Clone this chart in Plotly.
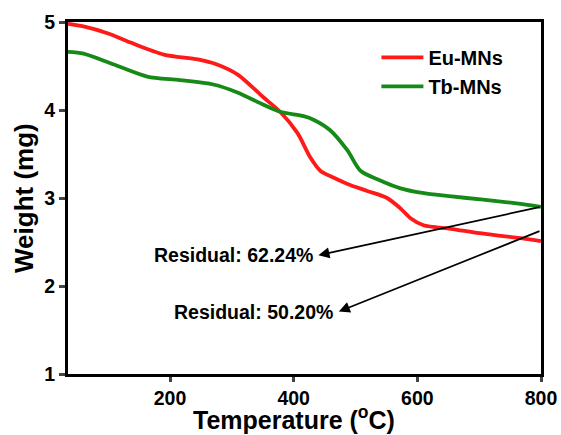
import plotly.graph_objects as go

eu_t = [35, 60, 100, 135, 190, 245, 275, 310, 350, 378, 406, 427, 443, 465, 487, 519, 551, 573, 589, 610, 654, 700, 735, 770, 800]
eu_w = [4.98, 4.95, 4.87, 4.77, 4.63, 4.575, 4.52, 4.40, 4.15, 3.98, 3.74, 3.46, 3.31, 3.23, 3.16, 3.08, 3.0, 2.88, 2.77, 2.69, 2.65, 2.60, 2.57, 2.54, 2.51]

tb_t = [35, 60, 108, 163, 216, 270, 309, 351, 378, 416, 432, 459, 487, 508, 540, 573, 605, 626, 680, 735, 770, 800]
tb_w = [4.66, 4.64, 4.52, 4.38, 4.34, 4.29, 4.20, 4.06, 3.98, 3.93, 3.89, 3.77, 3.54, 3.31, 3.20, 3.11, 3.06, 3.04, 3.0, 2.96, 2.93, 2.90]

x_ticks = [200, 400, 600, 800]
y_ticks = [1, 2, 3, 4, 5]

x_title = "Temperature (<sup>o</sup>C)"
y_title = "Weight (mg)"

res_labels = ["Residual: 62.24%", "Residual: 50.20%"]
res_text_pos = [(303, 2.35), (335, 1.70)]
res_arrow_head = [(440, 2.35), (473, 1.71)]
res_arrow_tail = [(800, 2.90), (800, 2.63)]

FONT = "Liberation Sans, Arial, sans-serif"

fig = go.Figure()
fig.add_trace(go.Scatter(x=eu_t, y=eu_w, mode="lines", name="Eu-MNs",
                         line=dict(color="#ff1a1a", width=3.8, shape="spline", smoothing=0.8)))
fig.add_trace(go.Scatter(x=tb_t, y=tb_w, mode="lines", name="Tb-MNs",
                         line=dict(color="#168a16", width=3.8, shape="spline", smoothing=0.8)))

for lab, (tx, ty), (hx, hy), (ax, ay) in zip(res_labels, res_text_pos, res_arrow_head, res_arrow_tail):
    fig.add_annotation(x=tx, y=ty, xref="x", yref="y", text=lab, showarrow=False,
                       font=dict(family=FONT, size=19.5, color="black", weight="bold"))
    fig.add_annotation(x=hx, y=hy, xref="x", yref="y", ax=ax, ay=ay, axref="x", ayref="y",
                       text="", showarrow=True, arrowhead=2, arrowsize=1.3, arrowwidth=1.7,
                       arrowcolor="black")

# axis titles as annotations (placed precisely without margin push)
fig.add_annotation(x=0.478, y=0, xref="paper", yref="paper", text=x_title, showarrow=False,
                   xanchor="center", yanchor="middle", yshift=-44,
                   font=dict(family=FONT, size=25, color="black", weight="bold"))
fig.add_annotation(x=0, y=0.5, xref="paper", yref="paper", text=y_title, showarrow=False,
                   textangle=-90, xanchor="center", yanchor="middle", xshift=-44,
                   font=dict(family=FONT, size=26, color="black", weight="bold"))

fig.update_layout(
    width=561, height=435,
    margin=dict(l=68, r=20, t=22, b=61, autoexpand=False),
    plot_bgcolor="white", paper_bgcolor="white",
    font=dict(family=FONT, color="black"),
    showlegend=True,
    legend=dict(x=0.652, y=0.955, xanchor="left", yanchor="top", bgcolor="rgba(0,0,0,0)",
                font=dict(family=FONT, size=20, color="black", weight="bold"),
                tracegroupgap=0, itemwidth=42),
    xaxis=dict(range=[35, 800], tickvals=x_ticks, ticks="outside", ticklen=5, tickwidth=2.5,
               showline=True, linewidth=3, linecolor="black", mirror=True, showgrid=False,
               zeroline=False, automargin=False,
               tickfont=dict(family=FONT, size=19.5, color="black", weight="bold")),
    yaxis=dict(range=[1, 5], tickvals=y_ticks, ticks="outside", ticklen=6, tickwidth=2.5,
               showline=True, linewidth=3, linecolor="black", mirror=True, showgrid=False,
               zeroline=False, automargin=False,
               tickfont=dict(family=FONT, size=19.5, color="black", weight="bold")),
)

fig.write_html("out.html")
